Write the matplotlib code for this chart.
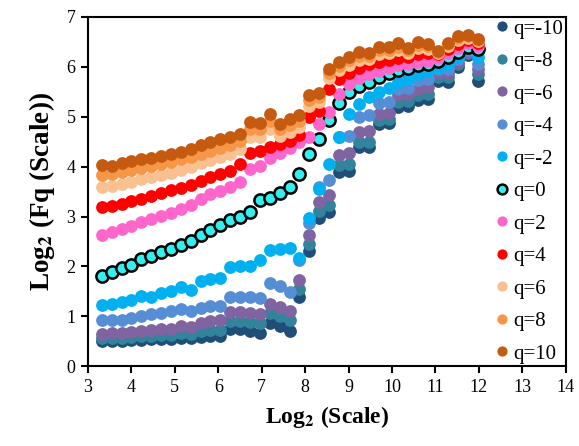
import numpy as np
import matplotlib
matplotlib.use("Agg")
import matplotlib.pyplot as plt

plt.rcParams['font.family'] = ['Liberation Serif', 'DejaVu Serif']
plt.rcParams['mathtext.fontset'] = 'stix'
plt.rcParams['mathtext.default'] = 'bf'

# -----------------------------
# Data: log2(scale) and log2(Fq) for each q
# -----------------------------
x = [3.32, 3.55, 3.78, 4.00, 4.23, 4.46, 4.69, 4.91, 5.14, 5.37,
     5.60, 5.82, 6.05, 6.28, 6.51, 6.73, 6.96, 7.19, 7.42, 7.64,
     7.87, 8.10, 8.33, 8.55, 8.78, 9.01, 9.24, 9.46, 9.69, 9.92,
     10.15, 10.37, 10.60, 10.83, 11.06, 11.28, 11.51, 11.74, 11.97]

fq_m10 = [0.50, 0.50, 0.51, 0.52, 0.53, 0.54, 0.55, 0.54, 0.57, 0.56,
          0.59, 0.60, 0.60, 0.74, 0.74, 0.70, 0.66, 0.86, 0.80, 0.70,
          1.38, 2.30, 2.97, 3.09, 3.89, 3.92, 4.39, 4.40, 4.86, 4.88,
          5.20, 5.22, 5.33, 5.36, 5.72, 5.70, 6.00, 6.24, 5.72]
fq_m8 = [0.56, 0.56, 0.57, 0.58, 0.60, 0.61, 0.62, 0.62, 0.66, 0.65,
         0.70, 0.72, 0.73, 0.90, 0.90, 0.88, 0.86, 1.06, 1.00, 0.92,
         1.55, 2.45, 3.12, 3.23, 4.03, 4.05, 4.49, 4.50, 4.93, 4.95,
         5.30, 5.32, 5.43, 5.46, 5.80, 5.80, 6.05, 6.27, 5.85]
fq_m6 = [0.65, 0.66, 0.66, 0.68, 0.70, 0.72, 0.74, 0.74, 0.80, 0.78,
         0.86, 0.90, 0.92, 1.08, 1.08, 1.06, 1.05, 1.25, 1.18, 1.10,
         1.72, 2.62, 3.30, 3.43, 4.24, 4.28, 4.70, 4.72, 5.06, 5.08,
         5.43, 5.45, 5.56, 5.60, 5.88, 5.88, 6.10, 6.30, 5.95]
fq_m4 = [0.92, 0.92, 0.93, 0.96, 1.00, 1.04, 1.07, 1.10, 1.14, 1.10,
         1.16, 1.20, 1.20, 1.39, 1.39, 1.39, 1.37, 1.66, 1.60, 1.49,
         2.12, 2.86, 3.60, 3.73, 4.60, 4.62, 5.00, 5.03, 5.28, 5.30,
         5.55, 5.58, 5.73, 5.76, 5.95, 5.95, 6.15, 6.34, 6.05]
fq_m2 = [1.22, 1.25, 1.28, 1.32, 1.40, 1.38, 1.46, 1.50, 1.58, 1.52,
         1.70, 1.74, 1.76, 1.99, 2.00, 2.00, 2.12, 2.32, 2.35, 2.36,
         2.16, 2.97, 3.55, 4.05, 4.60, 5.06, 5.26, 5.40, 5.50, 5.58,
         5.70, 5.75, 5.85, 5.92, 5.98, 6.05, 6.20, 6.38, 6.20]
fq_0 = [1.80, 1.88, 1.96, 2.02, 2.14, 2.20, 2.29, 2.34, 2.42, 2.50,
        2.62, 2.72, 2.82, 2.92, 3.00, 3.09, 3.33, 3.38, 3.47, 3.60,
        3.86, 4.26, 4.55, 4.94, 5.28, 5.50, 5.62, 5.70, 5.80, 5.87,
        5.94, 5.98, 6.03, 6.06, 6.12, 6.20, 6.30, 6.40, 6.35]
fq_2 = [2.63, 2.69, 2.75, 2.81, 2.88, 2.94, 3.01, 3.07, 3.15, 3.24,
        3.36, 3.46, 3.52, 3.60, 3.70, 3.95, 4.02, 4.18, 4.28, 4.38,
        4.50, 4.60, 4.85, 5.10, 5.45, 5.65, 5.78, 5.85, 5.92, 5.98,
        6.03, 6.06, 6.10, 6.12, 6.18, 6.28, 6.38, 6.48, 6.42]
fq_4 = [3.19, 3.22, 3.26, 3.31, 3.36, 3.42, 3.48, 3.53, 3.58, 3.64,
        3.72, 3.80, 3.86, 3.92, 4.05, 4.28, 4.32, 4.40, 4.45, 4.52,
        4.63, 5.00, 5.12, 5.55, 5.75, 5.88, 5.98, 6.05, 6.10, 6.14,
        6.18, 6.20, 6.25, 6.27, 6.25, 6.35, 6.45, 6.53, 6.47]
fq_6 = [3.59, 3.62, 3.66, 3.70, 3.75, 3.79, 3.84, 3.88, 3.94, 4.00,
        4.07, 4.13, 4.20, 4.26, 4.36, 4.60, 4.60, 4.75, 4.62, 4.70,
        4.80, 5.22, 5.30, 5.78, 5.93, 6.04, 6.14, 6.15, 6.25, 6.27,
        6.33, 6.28, 6.38, 6.36, 6.27, 6.42, 6.54, 6.58, 6.52]
fq_8 = [3.83, 3.86, 3.90, 3.94, 3.98, 4.02, 4.06, 4.10, 4.15, 4.20,
        4.26, 4.31, 4.38, 4.43, 4.52, 4.76, 4.75, 4.92, 4.75, 4.83,
        4.92, 5.33, 5.40, 5.87, 6.02, 6.13, 6.22, 6.22, 6.33, 6.34,
        6.40, 6.33, 6.44, 6.41, 6.30, 6.45, 6.58, 6.61, 6.54]
fq_10 = [4.03, 4.02, 4.08, 4.12, 4.15, 4.18, 4.21, 4.25, 4.30, 4.36,
         4.44, 4.50, 4.56, 4.60, 4.66, 4.90, 4.88, 5.06, 4.86, 4.95,
         5.03, 5.43, 5.48, 5.95, 6.10, 6.20, 6.30, 6.28, 6.40, 6.40,
         6.47, 6.38, 6.50, 6.45, 6.32, 6.47, 6.62, 6.63, 6.56]

series = [fq_m10, fq_m8, fq_m6, fq_m4, fq_m2, fq_0, fq_2, fq_4, fq_6, fq_8, fq_10]
labels = ["q=-10", "q=-8", "q=-6", "q=-4", "q=-2", "q=0",
          "q=2", "q=4", "q=6", "q=8", "q=10"]
colors = ["#1F4E79", "#31849B", "#8064A2", "#558ED5", "#00B0F0", "#33EEEE",
          "#FF66CC", "#FF0000", "#FAC090", "#F79646", "#C55A11"]

# -----------------------------
# Plot
# -----------------------------
fig = plt.figure(figsize=(5.79, 4.46), dpi=100)
ax = fig.add_axes([0.152, 0.179, 0.825, 0.783])

for y, lab, c in zip(series, labels, colors):
    if lab == "q=0":
        ax.plot(x, y, "o", color=c, markersize=8.8, markeredgecolor="black",
                markeredgewidth=1.8, label=lab)
    else:
        ax.plot(x, y, "o", color=c, markersize=9.2, markeredgewidth=0, label=lab)

ax.set_xlim(3, 14)
ax.set_ylim(0, 7)
ax.set_xticks(range(3, 15))
ax.set_yticks(range(0, 8))
ax.tick_params(direction="out", length=5, width=1.5, labelsize=13, pad=4)
for s in ax.spines.values():
    s.set_linewidth(1.5)

ax.set_xlabel(r"Log$_2$ (Scale)", fontsize=17, fontweight="bold", labelpad=6)
ax.set_ylabel(r"Log$_2$ (Fq (Scale))", fontsize=19.5, fontweight="bold", labelpad=7)

ax.legend(loc="upper right", frameon=False, fontsize=15, markerscale=0.8,
          handlelength=0.5, handletextpad=0.3, labelspacing=0.62,
          borderaxespad=0.0, borderpad=0.1)

fig.savefig("out.png", dpi=100)
